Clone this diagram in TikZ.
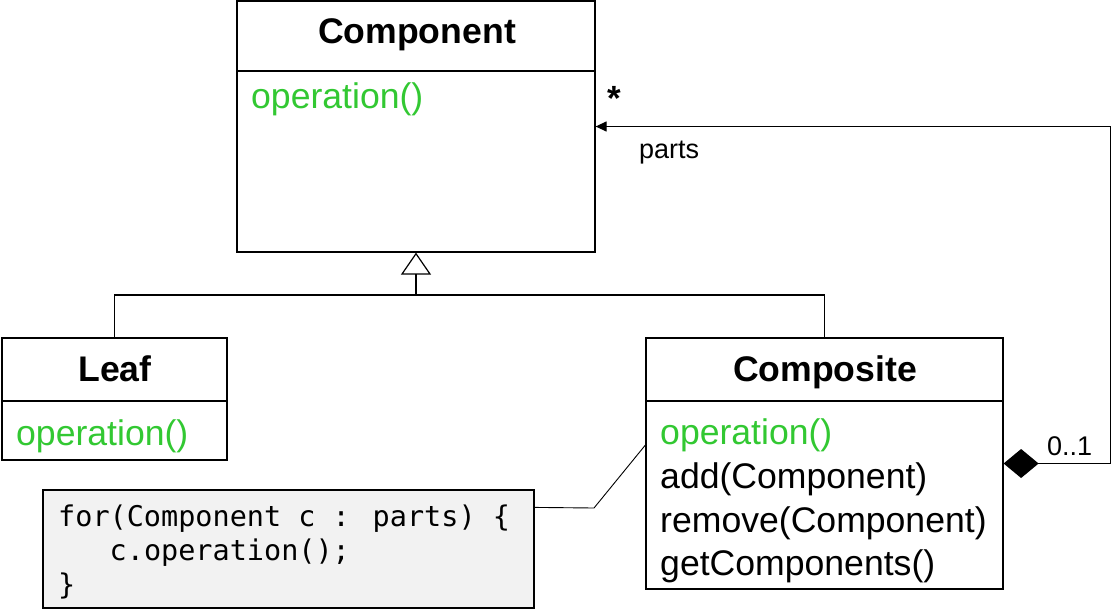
\documentclass[tikz,border=0pt]{standalone}
\usepackage{fontspec}
\setmainfont{Liberation Sans}
\newfontfamily\codefont{DejaVu Sans Mono}
\usetikzlibrary{arrows.meta,calc}
\definecolor{opgreen}{RGB}{50,200,50}
\definecolor{notefill}{RGB}{242,242,242}
\tikzset{
  umlbox/.style={draw, line width=1.2pt, inner sep=0pt},
  notebox/.style={draw, line width=1.2pt, fill=notefill, inner sep=0pt},
  conn/.style={line width=1.2pt},
  title/.style={anchor=base, inner sep=0pt, font=\fontsize{35.6}{40}\selectfont\bfseries},
  op/.style={anchor=base west, inner sep=0pt, font=\fontsize{35.6}{40}\selectfont, text=opgreen},
  meth/.style={anchor=base west, inner sep=0pt, font=\fontsize{35.6}{40}\selectfont},
  code/.style={anchor=base west, inner sep=0pt, font=\fontsize{28.5}{34}\selectfont\codefont},
  lbl/.style={anchor=base west, inner sep=0pt, font=\fontsize{27}{30}\selectfont},
}
\begin{document}
\begin{tikzpicture}[x=1pt,y=-1pt]
\useasboundingbox (0,0) rectangle (1116,611);
% boxes
\node[umlbox, minimum width=358pt, minimum height=251pt] (comp) at (416,126.5) {};
\node[umlbox, minimum width=225pt, minimum height=122pt] (leaf) at (114.5,399) {};
\node[umlbox, minimum width=357pt, minimum height=251pt] (compo) at (824.5,463.5) {};
\node[notebox, minimum width=491pt, minimum height=118pt] (note) at (288.5,549) {};
% dividers
\draw[conn] (comp.west |- 0,71) -- (comp.east |- 0,71);
\draw[conn] (leaf.west |- 0,401) -- (leaf.east |- 0,401);
\draw[conn] (compo.west |- 0,401) -- (compo.east |- 0,401);
% texts
\node[title] (tcomp) at (417,43) {Component};
\node[op] (ocomp) at (251,108) {operation()};
\node[title] (tleaf) at (115,381) {Leaf};
\node[op] (oleaf) at (16,445) {operation()};
\node[title] (tcompo) at (825,381) {Composite};
\node[op] (ocompo) at (660,444) {operation()};
\node[meth] (m1) at (660,488) {add(Component)};
\node[meth] (m2) at (660,532) {remove(Component)};
\node[meth] (m3) at (660,575) {getComponents()};
\node[code] (c1) at (58,526) {for(Component c : parts) \{};
\node[code] (c2) at (109.5,560) {c.operation();};
\node[code] (c3) at (58,594) {\}};
% generalization
\coordinate (junc) at (416,295);
\draw[conn] (leaf.north) |- (junc);
\draw[conn] (compo.north) |- (junc);
\draw[conn, -{Triangle[open, length=22pt, width=30pt, line width=1.2pt]}] (junc) -- (comp.south);
% aggregation
\draw[conn, {Diamond[length=35pt, width=29pt]}-{Triangle[length=11pt, width=10pt]}] (compo.east) -- ++(107,0) |- (comp.east);
\node[lbl] (mult) at (1047,455) {0..1};
\node[inner sep=0pt, font=\fontsize{35}{40}\selectfont\bfseries] (star) at (614,98) {*};
\node[lbl] (parts) at (639,158) {parts};
% note connector
\coordinate (n1) at ($(note.north east)+(0,18)$);
\coordinate (n2) at (594,508);
\coordinate (n3) at (compo.west |- 0,445);
\draw[line width=0.9pt] (n1) -- (n2) -- (n3);
\end{tikzpicture}
\end{document}
